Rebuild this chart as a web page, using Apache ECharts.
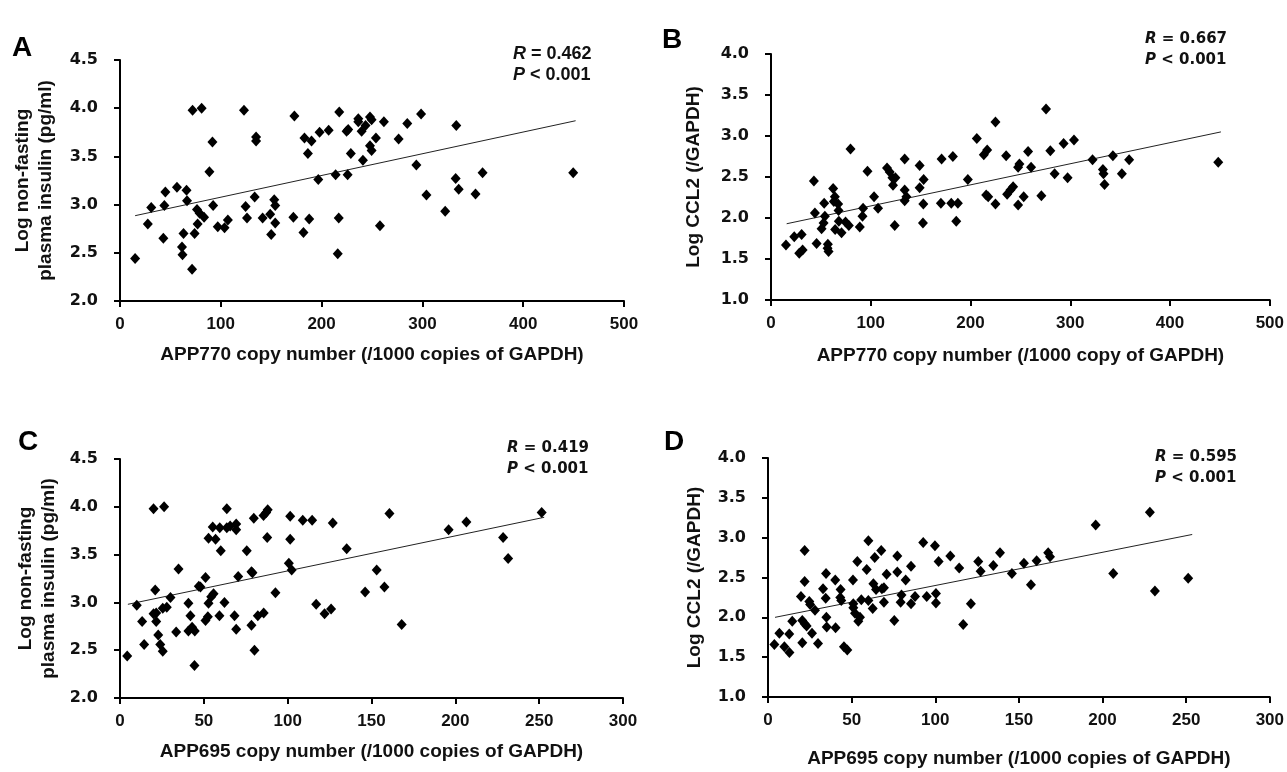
<!DOCTYPE html>
<html>
<head>
<meta charset="utf-8">
<script src="https://cdn.jsdelivr.net/npm/echarts@6/dist/echarts.min.js"></script>
<style>
  html, body { margin: 0; padding: 0; background: #fff; }
  #main { width: 1287px; height: 772px; }
</style>
</head>
<body>
<div id="main"></div>
<script>
// panel A: APP770 vs insulin
const xA = [15,27.6,31,43,44,45,56.5,61.5,62,63,66,66.5,72,71.5,74,76.4,77,79,81,83.4,88.7,91.7,92.4,97,103.7,107,123,124.6,126,133.6,135,135,141.5,149,150,153,154,154,172,173,182,183,186.4,187.7,190,196.7,198,207,
  217.5,213.9,217,216,225.8,224.8,226.4,229,236.4,236.4,239.7,241,243.6,248,249.6,248,249.6,253.9,257.9,261.8,276.4,285,294,298.7,304,322.6,333.6,333,336,352.7,359.7,449.6];
const yA = [2.44,2.80,2.97,2.65,2.99,3.13,3.18,2.56,2.48,2.70,3.15,3.04,3.98,2.33,2.70,2.95,2.80,2.91,4.00,2.87,3.34,3.65,2.99,2.77,2.76,2.84,3.98,2.98,2.86,3.08,3.70,3.66,2.86,2.90,2.69,3.05,2.99,2.81,2.87,3.92,2.71,3.69,3.53,2.85,3.66,3.26,3.75,3.77,
  3.96,3.31,2.86,2.49,3.31,3.76,3.78,3.53,3.89,3.86,3.76,3.46,3.82,3.91,3.88,3.61,3.56,3.69,2.78,3.86,3.68,3.84,3.41,3.94,3.10,2.93,3.82,3.27,3.16,3.11,3.33,3.33];
const trendA = [[15, 2.885], [452, 3.87]];

// panel B: APP770 vs CCL2
const xB = [15,23.3,30.7,28.3,31.7,43,44,45.7,56.7,53.3,54,52.7,50.7,57,57.7,63,62.3,64,64.3,67.3,67.7,68,70.7,74.7,78,79.7,89,91.7,92.3,96.7,103.3,107.3,116.3,119,121.7,124.7,122.3,124,134,134,134,135.7,149,149,153,152.7,152.3,171,170.3,182.3,180.7,187.3,185.7,197.3,
  206.3,213.3,216.7,215.7,217.7,225,225,235.7,236.7,240,242.7,247.7,249,247.7,253.3,257.7,260.7,271,275.7,280,284.3,293.3,297.3,303.7,322.3,332.7,333.3,334.3,342.7,351.7,359,448.3];
const yB = [1.67,1.77,1.80,1.57,1.61,2.45,2.06,1.69,1.63,2.18,2.02,1.94,1.87,1.68,1.59,2.20,2.36,2.26,1.86,2.17,2.09,1.96,1.82,1.95,1.91,2.84,1.89,2.02,2.12,2.57,2.26,2.12,2.61,2.56,2.49,2.49,2.40,1.91,2.72,2.34,2.21,2.26,2.64,2.37,2.47,2.17,1.94,2.72,2.18,2.75,2.18,2.18,1.96,2.47,
  2.97,2.77,2.83,2.28,2.26,3.17,2.17,2.76,2.29,2.34,2.38,2.62,2.66,2.16,2.26,2.81,2.62,2.27,3.33,2.82,2.54,2.91,2.49,2.95,2.71,2.59,2.54,2.41,2.76,2.54,2.71,2.68];
const trendB = [[15.7, 1.93], [451, 3.05]];

// panel C: APP695 vs insulin
const xC = [4.3,10,13.2,14.4,20,26.3,21,20,21.6,21.6,22.8,24,25.5,25.5,27.9,30.1,33.5,34.9,40.8,40.8,42,43,44.6,44.4,47,48,51,51,52.4,52.8,54.4,55.8,52.8,55.3,57,59.5,60.1,59.3,62.3,63.7,63.7,65.7,68.3,69.3,69.3,70.5,69.3,75.6,78.4,79,78.4,80.2,79.8,82.2,85.7,85.6,87.2,88.1,87.8,92.7,100.7,101.5,101.5,102.4,109,114.6,117,122,
  126.9,135.2,125.9,146.2,153.1,157.7,160.7,168,196,206.6,228.5,231.5,251.5];
const yC = [2.44,2.97,2.80,2.56,3.98,4.00,3.13,2.88,2.89,2.80,2.66,2.56,2.49,2.94,2.95,3.05,2.69,3.35,2.99,2.70,2.86,2.74,2.70,2.34,3.17,3.16,3.26,2.81,2.85,2.99,3.06,3.09,3.67,3.79,3.66,3.78,3.54,2.86,3.00,3.98,3.78,3.80,2.86,3.76,3.82,3.27,2.72,3.54,3.32,3.31,2.76,2.50,3.88,2.86,2.89,3.91,3.94,3.97,3.68,3.10,3.41,3.90,3.66,3.34,3.86,3.86,2.98,2.88,
  3.83,3.56,2.93,3.11,3.34,3.16,3.93,2.77,3.76,3.84,3.68,3.46,3.94];
const trendC = [[4.7, 2.98], [253, 3.89]];

// panel D: APP695 vs CCL2
const xD = [3.8,6.8,9.8,12.8,12.7,14.5,20.5,20.5,19.7,21.9,21.9,21.9,23.1,24.7,25.2,26.3,28.1,29.9,32.9,34.7,34.5,34.9,35.1,40.2,40.4,43.4,43.2,43.8,45.4,47.4,50.8,51,51,52,53.4,54,55,55.8,59,60,60,62.6,63,63.8,64.6,67.7,68.1,69.3,69.3,70.9,75.5,77.3,77.3,79.3,79.8,82.3,85.5,85.5,87.9,92.8,94.9,99.8,100.4,100.4,102,109,114.3,116.7,
  121.3,125.7,127.1,134.7,138.7,145.8,153,157.2,160.6,167.5,168.6,195.9,206.4,228.3,231.3,251.2];
const yD = [1.66,1.80,1.63,1.56,1.79,1.95,1.68,1.96,2.26,2.84,2.45,1.92,1.89,2.20,2.16,1.80,2.09,1.67,2.36,2.55,2.24,2.00,1.88,2.47,1.87,2.35,2.25,2.21,1.63,1.59,2.47,2.17,2.12,2.05,2.70,1.95,2.00,2.22,2.60,2.96,2.21,2.11,2.42,2.75,2.35,2.84,2.36,2.19,2.37,2.54,1.96,2.77,2.57,2.19,2.28,2.47,2.64,2.17,2.26,2.94,2.26,2.90,2.30,2.18,2.70,2.77,2.62,1.91,
  2.17,2.70,2.58,2.65,2.81,2.55,2.68,2.41,2.71,2.81,2.76,3.16,2.55,3.32,2.33,2.49];
const trendD = [[4.2, 2.00], [253.6, 3.04]];

const panelLetters = ['A', 'B', 'C', 'D'];
const statsR = ['0.462', '0.667', '0.419', '0.595'];
const xTitles = [
  'APP770 copy number (/1000 copies of GAPDH)',
  'APP770 copy number (/1000 copy of GAPDH)',
  'APP695 copy number (/1000 copies of GAPDH)',
  'APP695 copy number (/1000 copies of GAPDH)'
];
const yTitles = [
  'Log non-fasting\nplasma insulin (pg/ml)',
  'Log CCL2 (/GAPDH)',
  'Log non-fasting\nplasma insulin (pg/ml)',
  'Log CCL2 (/GAPDH)'
];

const ARIAL = 'Liberation Sans, Arial, sans-serif';
const WIDE = 'DejaVu Sans, Verdana, sans-serif';
const chart = echarts.init(document.getElementById('main'));

const panels = [
  {x: xA, y: yA, t: trendA, grid: {left: 120, top: 60, width: 504, height: 241}, xMax: 500, xInt: 100, yMin: 2, yMax: 4.5, nameGapY: 63, nameGapX: 44},
  {x: xB, y: yB, t: trendB, grid: {left: 771, top: 54, width: 501, height: 246}, xMax: 500, xInt: 100, yMin: 1, yMax: 4, nameGapY: 66, nameGapX: 46},
  {x: xC, y: yC, t: trendC, grid: {left: 120, top: 459, width: 503, height: 239}, xMax: 300, xInt: 50, yMin: 2, yMax: 4.5, nameGapY: 60, nameGapX: 44},
  {x: xD, y: yD, t: trendD, grid: {left: 768, top: 458, width: 502, height: 239}, xMax: 300, xInt: 50, yMin: 1, yMax: 4, nameGapY: 62, nameGapX: 52}
];

const grids = [], xAxes = [], yAxes = [], series = [];
panels.forEach(function (p, i) {
  grids.push(Object.assign({containLabel: false}, p.grid));
  xAxes.push({
    type: 'value', gridIndex: i, min: 0, max: p.xMax, interval: p.xInt,
    name: xTitles[i], nameLocation: 'middle', nameGap: p.nameGapX,
    nameTextStyle: {fontFamily: ARIAL, fontWeight: 'bold', fontSize: 19, color: '#111'},
    axisLine: {show: true, lineStyle: {color: '#000', width: 2}},
    axisTick: {show: true, length: 6, lineStyle: {color: '#000', width: 2}},
    axisLabel: {fontFamily: ARIAL, fontWeight: 'bold', fontSize: 17, color: '#111', margin: 15},
    splitLine: {show: false}
  });
  yAxes.push({
    type: 'value', gridIndex: i, min: p.yMin, max: p.yMax, interval: 0.5,
    name: yTitles[i], nameLocation: 'middle', nameGap: p.nameGapY, nameRotate: 90,
    nameTextStyle: {fontFamily: ARIAL, fontWeight: 'bold', fontSize: 19, color: '#111', lineHeight: 23},
    axisLine: {show: true, lineStyle: {color: '#000', width: 2}},
    axisTick: {show: true, length: 6, lineStyle: {color: '#000', width: 2}},
    axisLabel: {fontFamily: WIDE, fontWeight: 'bold', fontSize: 16, color: '#111', margin: 22,
      formatter: function (v) { return v.toFixed(1); }},
    splitLine: {show: false}
  });
  series.push({
    type: 'scatter', xAxisIndex: i, yAxisIndex: i,
    symbol: 'diamond', symbolSize: [10, 11],
    itemStyle: {color: '#000', opacity: 1},
    data: p.x.map(function (v, k) { return [v, p.y[k]]; }),
    silent: true
  });
  series.push({
    type: 'line', xAxisIndex: i, yAxisIndex: i,
    data: p.t, symbol: 'none',
    lineStyle: {color: '#222', width: 1},
    silent: true, z: 1
  });
});

// panel letters and R / P annotations
const letterPos = [[12, 34], [662, 26], [18, 428], [664, 428]];
const statPos = [[513, 44], [1145, 29], [507, 438], [1155, 447]];
const statFamily = [ARIAL, WIDE, WIDE, WIDE];
const statSize = [18, 15, 15, 15];
const graphics = [];
panelLetters.forEach(function (l, i) {
  graphics.push({
    type: 'text', left: letterPos[i][0], top: letterPos[i][1],
    style: {text: l, font: 'bold 28px ' + ARIAL, fill: '#000'}
  });
  const base = {fontFamily: statFamily[i], fontSize: statSize[i], fontWeight: 'bold', fill: '#111', lineHeight: 21};
  graphics.push({
    type: 'text', left: statPos[i][0], top: statPos[i][1],
    style: {
      text: '{i|R}{n| = ' + statsR[i] + '}\n{i|P}{n| < 0.001}',
      fontFamily: statFamily[i], fontSize: statSize[i], fontWeight: 'bold', fill: '#111', lineHeight: 21,
      rich: {
        i: Object.assign({}, base, {fontStyle: 'italic'}),
        n: base
      }
    }
  });
});

chart.setOption({
  backgroundColor: '#fff',
  animation: false,
  grid: grids,
  xAxis: xAxes,
  yAxis: yAxes,
  series: series,
  graphic: graphics
});
</script>
</body>
</html>
